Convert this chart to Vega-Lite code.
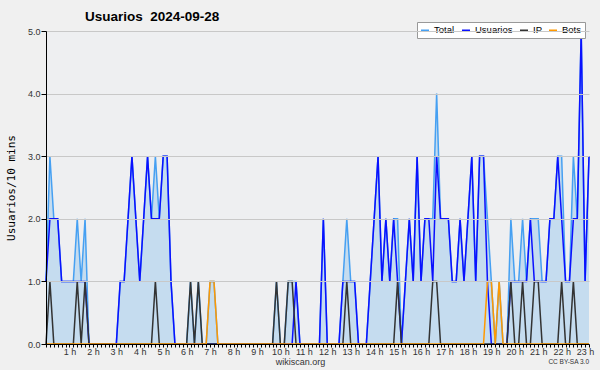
{
  "$schema": "https://vega.github.io/schema/vega-lite/v6.json",
  "autosize": "none",
  "width": 543,
  "height": 313,
  "padding": {"left": 46, "top": 31, "right": 11, "bottom": 26},
  "background": "#f0f0f0",
  "title": {
    "text": "Usuarios\u00a0 2024-09-28",
    "anchor": "start",
    "frame": "group",
    "dx": 39,
    "dy": 10,
    "font": "Liberation Sans",
    "fontSize": 13.5,
    "fontWeight": "bold",
    "color": "#000000",
    "offset": 8
  },
  "config": {
    "view": {"stroke": null, "fill": "#eeeff1"},
    "axis": {
      "domainColor": "#000000",
      "tickColor": "#000000",
      "labelFont": "Liberation Sans",
      "labelFontSize": 9,
      "labelColor": "#333333"
    }
  },
  "data": {
    "values": [
      {"i":0,"Total":1,"Usuarios":1,"IP":0,"Bots":0},
      {"i":1,"Total":3,"Usuarios":2,"IP":1,"Bots":0},
      {"i":2,"Total":2,"Usuarios":2,"IP":0,"Bots":0},
      {"i":3,"Total":2,"Usuarios":2,"IP":0,"Bots":0},
      {"i":4,"Total":1,"Usuarios":1,"IP":0,"Bots":0},
      {"i":5,"Total":1,"Usuarios":1,"IP":0,"Bots":0},
      {"i":6,"Total":1,"Usuarios":1,"IP":0,"Bots":0},
      {"i":7,"Total":1,"Usuarios":1,"IP":0,"Bots":0},
      {"i":8,"Total":2,"Usuarios":1,"IP":1,"Bots":0},
      {"i":9,"Total":1,"Usuarios":1,"IP":0,"Bots":0},
      {"i":10,"Total":2,"Usuarios":1,"IP":1,"Bots":0},
      {"i":11,"Total":0,"Usuarios":0,"IP":0,"Bots":0},
      {"i":12,"Total":0,"Usuarios":0,"IP":0,"Bots":0},
      {"i":13,"Total":0,"Usuarios":0,"IP":0,"Bots":0},
      {"i":14,"Total":0,"Usuarios":0,"IP":0,"Bots":0},
      {"i":15,"Total":0,"Usuarios":0,"IP":0,"Bots":0},
      {"i":16,"Total":0,"Usuarios":0,"IP":0,"Bots":0},
      {"i":17,"Total":0,"Usuarios":0,"IP":0,"Bots":0},
      {"i":18,"Total":0,"Usuarios":0,"IP":0,"Bots":0},
      {"i":19,"Total":1,"Usuarios":1,"IP":0,"Bots":0},
      {"i":20,"Total":1,"Usuarios":1,"IP":0,"Bots":0},
      {"i":21,"Total":2,"Usuarios":2,"IP":0,"Bots":0},
      {"i":22,"Total":3,"Usuarios":3,"IP":0,"Bots":0},
      {"i":23,"Total":2,"Usuarios":2,"IP":0,"Bots":0},
      {"i":24,"Total":1,"Usuarios":1,"IP":0,"Bots":0},
      {"i":25,"Total":2,"Usuarios":2,"IP":0,"Bots":0},
      {"i":26,"Total":3,"Usuarios":3,"IP":0,"Bots":0},
      {"i":27,"Total":2,"Usuarios":2,"IP":0,"Bots":0},
      {"i":28,"Total":3,"Usuarios":2,"IP":1,"Bots":0},
      {"i":29,"Total":2,"Usuarios":2,"IP":0,"Bots":0},
      {"i":30,"Total":3,"Usuarios":3,"IP":0,"Bots":0},
      {"i":31,"Total":3,"Usuarios":3,"IP":0,"Bots":0},
      {"i":32,"Total":1,"Usuarios":1,"IP":0,"Bots":0},
      {"i":33,"Total":0,"Usuarios":0,"IP":0,"Bots":0},
      {"i":34,"Total":0,"Usuarios":0,"IP":0,"Bots":0},
      {"i":35,"Total":0,"Usuarios":0,"IP":0,"Bots":0},
      {"i":36,"Total":0,"Usuarios":0,"IP":0,"Bots":0},
      {"i":37,"Total":1,"Usuarios":0,"IP":1,"Bots":0},
      {"i":38,"Total":0,"Usuarios":0,"IP":0,"Bots":0},
      {"i":39,"Total":1,"Usuarios":0,"IP":1,"Bots":0},
      {"i":40,"Total":0,"Usuarios":0,"IP":0,"Bots":0},
      {"i":41,"Total":0,"Usuarios":0,"IP":0,"Bots":0},
      {"i":42,"Total":1,"Usuarios":0,"IP":0,"Bots":1},
      {"i":43,"Total":1,"Usuarios":0,"IP":0,"Bots":1},
      {"i":44,"Total":0,"Usuarios":0,"IP":0,"Bots":0},
      {"i":45,"Total":0,"Usuarios":0,"IP":0,"Bots":0},
      {"i":46,"Total":0,"Usuarios":0,"IP":0,"Bots":0},
      {"i":47,"Total":0,"Usuarios":0,"IP":0,"Bots":0},
      {"i":48,"Total":0,"Usuarios":0,"IP":0,"Bots":0},
      {"i":49,"Total":0,"Usuarios":0,"IP":0,"Bots":0},
      {"i":50,"Total":0,"Usuarios":0,"IP":0,"Bots":0},
      {"i":51,"Total":0,"Usuarios":0,"IP":0,"Bots":0},
      {"i":52,"Total":0,"Usuarios":0,"IP":0,"Bots":0},
      {"i":53,"Total":0,"Usuarios":0,"IP":0,"Bots":0},
      {"i":54,"Total":0,"Usuarios":0,"IP":0,"Bots":0},
      {"i":55,"Total":0,"Usuarios":0,"IP":0,"Bots":0},
      {"i":56,"Total":0,"Usuarios":0,"IP":0,"Bots":0},
      {"i":57,"Total":0,"Usuarios":0,"IP":0,"Bots":0},
      {"i":58,"Total":0,"Usuarios":0,"IP":0,"Bots":0},
      {"i":59,"Total":1,"Usuarios":0,"IP":1,"Bots":0},
      {"i":60,"Total":0,"Usuarios":0,"IP":0,"Bots":0},
      {"i":61,"Total":0,"Usuarios":0,"IP":0,"Bots":0},
      {"i":62,"Total":1,"Usuarios":0,"IP":1,"Bots":0},
      {"i":63,"Total":1,"Usuarios":0,"IP":1,"Bots":0},
      {"i":64,"Total":1,"Usuarios":1,"IP":0,"Bots":0},
      {"i":65,"Total":0,"Usuarios":0,"IP":0,"Bots":0},
      {"i":66,"Total":0,"Usuarios":0,"IP":0,"Bots":0},
      {"i":67,"Total":0,"Usuarios":0,"IP":0,"Bots":0},
      {"i":68,"Total":0,"Usuarios":0,"IP":0,"Bots":0},
      {"i":69,"Total":0,"Usuarios":0,"IP":0,"Bots":0},
      {"i":70,"Total":0,"Usuarios":0,"IP":0,"Bots":0},
      {"i":71,"Total":2,"Usuarios":2,"IP":0,"Bots":0},
      {"i":72,"Total":0,"Usuarios":0,"IP":0,"Bots":0},
      {"i":73,"Total":0,"Usuarios":0,"IP":0,"Bots":0},
      {"i":74,"Total":0,"Usuarios":0,"IP":0,"Bots":0},
      {"i":75,"Total":0,"Usuarios":0,"IP":0,"Bots":0},
      {"i":76,"Total":1,"Usuarios":1,"IP":0,"Bots":0},
      {"i":77,"Total":2,"Usuarios":1,"IP":1,"Bots":0},
      {"i":78,"Total":1,"Usuarios":1,"IP":0,"Bots":0},
      {"i":79,"Total":1,"Usuarios":1,"IP":0,"Bots":0},
      {"i":80,"Total":0,"Usuarios":0,"IP":0,"Bots":0},
      {"i":81,"Total":0,"Usuarios":0,"IP":0,"Bots":0},
      {"i":82,"Total":0,"Usuarios":0,"IP":0,"Bots":0},
      {"i":83,"Total":1,"Usuarios":1,"IP":0,"Bots":0},
      {"i":84,"Total":2,"Usuarios":2,"IP":0,"Bots":0},
      {"i":85,"Total":3,"Usuarios":3,"IP":0,"Bots":0},
      {"i":86,"Total":1,"Usuarios":1,"IP":0,"Bots":0},
      {"i":87,"Total":2,"Usuarios":2,"IP":0,"Bots":0},
      {"i":88,"Total":1,"Usuarios":1,"IP":0,"Bots":0},
      {"i":89,"Total":2,"Usuarios":2,"IP":0,"Bots":0},
      {"i":90,"Total":2,"Usuarios":1,"IP":1,"Bots":0},
      {"i":91,"Total":0,"Usuarios":0,"IP":0,"Bots":0},
      {"i":92,"Total":1,"Usuarios":1,"IP":0,"Bots":0},
      {"i":93,"Total":2,"Usuarios":2,"IP":0,"Bots":0},
      {"i":94,"Total":1,"Usuarios":1,"IP":0,"Bots":0},
      {"i":95,"Total":3,"Usuarios":3,"IP":0,"Bots":0},
      {"i":96,"Total":1,"Usuarios":1,"IP":0,"Bots":0},
      {"i":97,"Total":2,"Usuarios":2,"IP":0,"Bots":0},
      {"i":98,"Total":2,"Usuarios":2,"IP":0,"Bots":0},
      {"i":99,"Total":2,"Usuarios":1,"IP":1,"Bots":0},
      {"i":100,"Total":4,"Usuarios":3,"IP":1,"Bots":0},
      {"i":101,"Total":2,"Usuarios":2,"IP":0,"Bots":0},
      {"i":102,"Total":2,"Usuarios":2,"IP":0,"Bots":0},
      {"i":103,"Total":2,"Usuarios":2,"IP":0,"Bots":0},
      {"i":104,"Total":1,"Usuarios":1,"IP":0,"Bots":0},
      {"i":105,"Total":1,"Usuarios":1,"IP":0,"Bots":0},
      {"i":106,"Total":2,"Usuarios":2,"IP":0,"Bots":0},
      {"i":107,"Total":1,"Usuarios":1,"IP":0,"Bots":0},
      {"i":108,"Total":2,"Usuarios":2,"IP":0,"Bots":0},
      {"i":109,"Total":3,"Usuarios":3,"IP":0,"Bots":0},
      {"i":110,"Total":1,"Usuarios":1,"IP":0,"Bots":0},
      {"i":111,"Total":3,"Usuarios":3,"IP":0,"Bots":0},
      {"i":112,"Total":3,"Usuarios":3,"IP":0,"Bots":0},
      {"i":113,"Total":2,"Usuarios":1,"IP":0,"Bots":1},
      {"i":114,"Total":1,"Usuarios":0,"IP":0,"Bots":1},
      {"i":115,"Total":0,"Usuarios":0,"IP":0,"Bots":0},
      {"i":116,"Total":1,"Usuarios":0,"IP":0,"Bots":1},
      {"i":117,"Total":0,"Usuarios":0,"IP":0,"Bots":0},
      {"i":118,"Total":0,"Usuarios":0,"IP":0,"Bots":0},
      {"i":119,"Total":2,"Usuarios":1,"IP":1,"Bots":0},
      {"i":120,"Total":1,"Usuarios":1,"IP":0,"Bots":0},
      {"i":121,"Total":1,"Usuarios":1,"IP":0,"Bots":0},
      {"i":122,"Total":2,"Usuarios":1,"IP":1,"Bots":0},
      {"i":123,"Total":1,"Usuarios":1,"IP":0,"Bots":0},
      {"i":124,"Total":2,"Usuarios":2,"IP":0,"Bots":0},
      {"i":125,"Total":2,"Usuarios":1,"IP":1,"Bots":0},
      {"i":126,"Total":2,"Usuarios":1,"IP":1,"Bots":0},
      {"i":127,"Total":1,"Usuarios":1,"IP":0,"Bots":0},
      {"i":128,"Total":1,"Usuarios":1,"IP":0,"Bots":0},
      {"i":129,"Total":2,"Usuarios":2,"IP":0,"Bots":0},
      {"i":130,"Total":2,"Usuarios":2,"IP":0,"Bots":0},
      {"i":131,"Total":3,"Usuarios":3,"IP":0,"Bots":0},
      {"i":132,"Total":3,"Usuarios":2,"IP":1,"Bots":0},
      {"i":133,"Total":1,"Usuarios":1,"IP":0,"Bots":0},
      {"i":134,"Total":1,"Usuarios":1,"IP":0,"Bots":0},
      {"i":135,"Total":3,"Usuarios":2,"IP":1,"Bots":0},
      {"i":136,"Total":2,"Usuarios":2,"IP":0,"Bots":0},
      {"i":137,"Total":5,"Usuarios":5,"IP":0,"Bots":0},
      {"i":138,"Total":1,"Usuarios":1,"IP":0,"Bots":0},
      {"i":139,"Total":3,"Usuarios":3,"IP":0,"Bots":0}
    ]
  },
  "encoding": {
    "x": {
      "field": "i",
      "type": "quantitative",
      "scale": {"domain": [0, 139], "nice": false, "zero": false},
      "axis": {
        "title": "wikiscan.org",
        "titleFont": "Liberation Sans",
        "titleFontSize": 9,
        "titleFontWeight": "normal",
        "titleColor": "#333333",
        "titleX": 254,
        "titleY": 17,
        "titleBaseline": "middle",
        "titleAnchor": "middle",
        "grid": false,
        "zindex": 1,
        "values": [0,1,2,3,4,5,6,7,8,9,10,11,12,13,14,15,16,17,18,19,20,21,22,23,24,25,26,27,28,29,30,31,32,33,34,35,36,37,38,39,40,41,42,43,44,45,46,47,48,49,50,51,52,53,54,55,56,57,58,59,60,61,62,63,64,65,66,67,68,69,70,71,72,73,74,75,76,77,78,79,80,81,82,83,84,85,86,87,88,89,90,91,92,93,94,95,96,97,98,99,100,101,102,103,104,105,106,107,108,109,110,111,112,113,114,115,116,117,118,119,120,121,122,123,124,125,126,127,128,129,130,131,132,133,134,135,136,137,138,139],
        "labelExpr": "datum.value % 6 === 0 && datum.value > 0 ? (datum.value / 6) + ' h' : ''",
        "labelOverlap": false,
        "labelFlush": false,
        "labelDx": -6,
        "labelPadding": 0,
        "tickSize": 3
      }
    }
  },
  "layer": [
    {
      "mark": {"type": "area", "color": "#c5dcef", "opacity": 1},
      "encoding": {
        "y": {
          "field": "Total",
          "type": "quantitative",
          "scale": {"domain": [0, 5], "nice": false},
          "axis": {
            "title": "Usuarios/10 mins",
            "titleFont": "DejaVu Sans Mono",
            "titleFontSize": 11,
            "titleFontWeight": "normal",
            "titleColor": "#000000",
            "titlePadding": 11,
            "zindex": 1,
            "values": [0,0.25,0.5,0.75,1,1.25,1.5,1.75,2,2.25,2.5,2.75,3,3.25,3.5,3.75,4,4.25,4.5,4.75,5],
            "labelExpr": "datum.value % 1 === 0 ? format(datum.value, '.1f') : ''",
            "grid": true,
            "gridColor": "#c8c8c8",
            "gridOpacity": {"condition": {"test": "datum.value % 1 === 0 && datum.value > 0", "value": 1}, "value": 0},
            "tickSize": {"condition": {"test": "datum.value % 1 === 0", "value": 5}, "value": 3},
            "labelPadding": 1,
            "labelOverlap": false
          }
        }
      }
    },
    {
      "mark": {"type": "line", "strokeWidth": 1.5},
      "encoding": {
        "y": {"field": "Total", "type": "quantitative"},
        "color": {
          "datum": "Total",
          "scale": {"domain": ["Total", "Usuarios", "IP", "Bots"], "range": ["#46a0f2", "#0a10ff", "#333333", "#ff9900"]},
          "legend": {
            "orient": "none",
            "legendX": 371,
            "legendY": -9,
            "direction": "horizontal",
            "title": null,
            "symbolType": "stroke",
            "symbolSize": 64,
            "symbolStrokeWidth": 1.5,
            "labelFont": "Liberation Sans",
            "labelFontSize": 9.5,
            "labelColor": "#000000",
            "labelOffset": 4,
            "columnPadding": 4,
            "padding": 3,
            "fillColor": "#ffffff",
            "strokeColor": "#999999"
          }
        }
      }
    },
    {
      "mark": {"type": "line", "strokeWidth": 1.5},
      "encoding": {
        "y": {"field": "Usuarios", "type": "quantitative"},
        "color": {"datum": "Usuarios"}
      }
    },
    {
      "mark": {"type": "line", "strokeWidth": 1.5},
      "encoding": {
        "y": {"field": "IP", "type": "quantitative"},
        "color": {"datum": "IP"}
      }
    },
    {
      "mark": {"type": "line", "strokeWidth": 1.5},
      "encoding": {
        "y": {"field": "Bots", "type": "quantitative"},
        "color": {"datum": "Bots"}
      }
    },
    {
      "transform": [{"filter": "datum.i === 139"}],
      "mark": {"type": "text", "text": "CC BY-SA 3.0", "align": "right", "baseline": "middle", "dy": 18, "fontSize": 6.5, "font": "Liberation Sans", "color": "#333333"},
      "encoding": {
        "y": {"datum": 0}
      }
    }
  ]
}
